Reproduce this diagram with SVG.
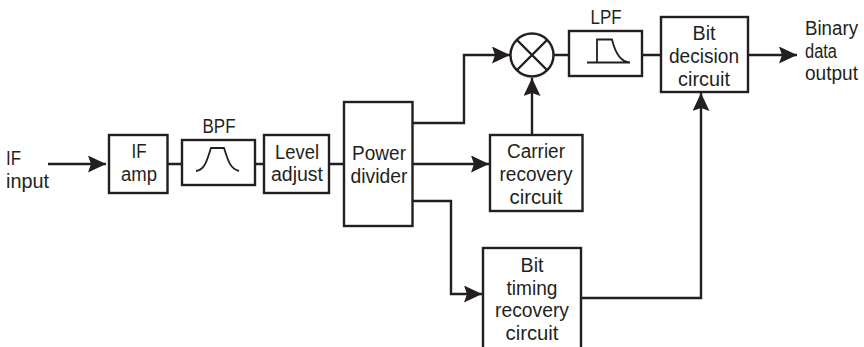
<svg xmlns="http://www.w3.org/2000/svg" width="864" height="347" viewBox="0 0 864 347">
<defs>
<style>
.b{fill:#fff;stroke:#231f20;stroke-width:2.400}
.c{fill:none;stroke:#231f20;stroke-width:2.400}
.i{fill:none;stroke:#231f20;stroke-width:1.800}
text{font-family:"Liberation Sans",Arial,sans-serif;font-size:20px;fill:#231f20;text-anchor:middle}
.l{text-anchor:start}
</style>
<marker id="a" markerUnits="userSpaceOnUse" markerWidth="19" markerHeight="17" refX="18" refY="8.500" orient="auto"><path d="M0 0L18 8.500L0 17L3 8.500Z" fill="#231f20"/></marker>
</defs>
<g id="connectors">
<path class="c" d="M48 164H106" marker-end="url(#a)"/>
<path class="c" d="M168 164H182M255 164H264M329 164H344"/>
<path class="c" d="M412 123H464V55H510" marker-end="url(#a)"/>
<path class="c" d="M412 164H489" marker-end="url(#a)"/>
<path class="c" d="M412 201H451V294H482" marker-end="url(#a)"/>
<path class="c" d="M532 135V78" marker-end="url(#a)"/>
<path class="c" d="M554 55H569M642 55H661"/>
<path class="c" d="M748 55H797" marker-end="url(#a)"/>
<path class="c" d="M581 298H701V93" marker-end="url(#a)"/>
</g>
<g id="if-input"><text class="l" x="6" y="165" textLength="15" lengthAdjust="spacingAndGlyphs">IF</text><text class="l" x="6" y="188" textLength="43" lengthAdjust="spacingAndGlyphs">input</text></g>
<g id="if-amp"><rect class="b" x="109" y="135" width="58.500" height="58"/><text x="139" y="158" textLength="15" lengthAdjust="spacingAndGlyphs">IF</text><text x="139" y="181" textLength="36" lengthAdjust="spacingAndGlyphs">amp</text></g>
<g id="bpf"><text x="219" y="133" textLength="33" lengthAdjust="spacingAndGlyphs">BPF</text><rect class="b" x="182" y="140" width="73" height="45"/><path class="i" d="M196 171C205 170 207 160 211 148H224C228 160 230 169 239 171"/></g>
<g id="level-adjust"><rect class="b" x="264" y="135" width="65" height="58"/><text x="297" y="159" textLength="44" lengthAdjust="spacingAndGlyphs">Level</text><text x="297" y="181" textLength="52" lengthAdjust="spacingAndGlyphs">adjust</text></g>
<g id="power-divider"><rect class="b" x="344" y="102" width="68.500" height="124"/><text x="379" y="160" textLength="54" lengthAdjust="spacingAndGlyphs">Power</text><text x="379" y="183" textLength="57" lengthAdjust="spacingAndGlyphs">divider</text></g>
<g id="mixer"><circle class="b" cx="532" cy="55" r="21.500"/><path class="c" d="M517 40L547 70M547 40L517 70"/></g>
<g id="lpf"><text x="606" y="24" textLength="31" lengthAdjust="spacingAndGlyphs">LPF</text><rect class="b" x="569" y="31" width="73" height="45"/><path class="i" d="M587 62.500H630M597 62.500V39.500H612C615 52 620 62 630 62.500"/></g>
<g id="bit-decision"><rect class="b" x="661" y="17" width="87" height="75"/><text x="704" y="40" textLength="23" lengthAdjust="spacingAndGlyphs">Bit</text><text x="704" y="63" textLength="70" lengthAdjust="spacingAndGlyphs">decision</text><text x="704" y="86" textLength="52" lengthAdjust="spacingAndGlyphs">circuit</text></g>
<g id="binary-output"><text class="l" x="805" y="35" textLength="53" lengthAdjust="spacingAndGlyphs">Binary</text><text class="l" x="805" y="58" textLength="32" lengthAdjust="spacingAndGlyphs">data</text><text class="l" x="805" y="80" textLength="53" lengthAdjust="spacingAndGlyphs">output</text></g>
<g id="carrier"><rect class="b" x="490" y="135" width="92.500" height="76"/><text x="536" y="158" textLength="58" lengthAdjust="spacingAndGlyphs">Carrier</text><text x="536" y="181" textLength="73" lengthAdjust="spacingAndGlyphs">recovery</text><text x="536" y="204" textLength="53" lengthAdjust="spacingAndGlyphs">circuit</text></g>
<g id="bit-timing"><rect class="b" x="483" y="248" width="98" height="110"/><text x="532" y="272" textLength="23" lengthAdjust="spacingAndGlyphs">Bit</text><text x="532" y="295" textLength="51" lengthAdjust="spacingAndGlyphs">timing</text><text x="532" y="317" textLength="74" lengthAdjust="spacingAndGlyphs">recovery</text><text x="532" y="340" textLength="53" lengthAdjust="spacingAndGlyphs">circuit</text></g>
</svg>
